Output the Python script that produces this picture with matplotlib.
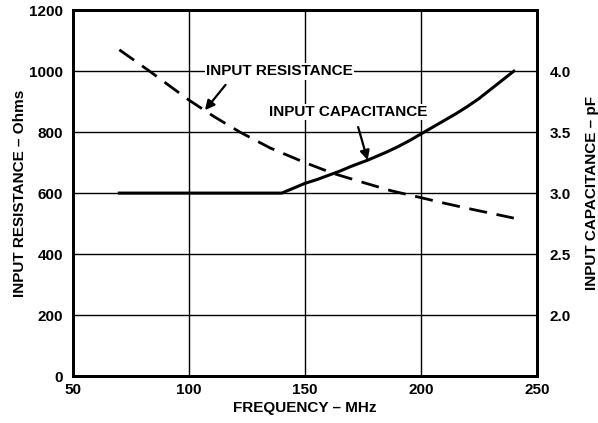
import numpy as np
import matplotlib.pyplot as plt

plt.rcParams['font.family'] = ['Liberation Sans', 'DejaVu Sans']
plt.rcParams['font.weight'] = 'bold'

# Input resistance (Ohms) vs frequency (MHz)
res_freq = [70, 83, 100, 111, 122, 135, 150, 162, 175, 187, 200, 210, 220, 230, 240]
res_ohms = [1070, 1000, 905, 850, 800, 748, 700, 665, 635, 608, 585, 567, 550, 534, 518]

# Input capacitance (pF) vs frequency (MHz)
cap_freq = [70, 140, 145, 150, 155, 160, 165, 170, 177, 185, 190, 195,
            200, 205, 210, 215, 220, 225, 230, 235, 240]
cap_pf = [3.0, 3.0, 3.04, 3.08, 3.11, 3.145, 3.18, 3.22, 3.27, 3.335, 3.38, 3.43,
          3.485, 3.54, 3.595, 3.65, 3.71, 3.775, 3.85, 3.925, 4.0]

x_ticks = [50, 100, 150, 200, 250]
y_ticks = [0, 200, 400, 600, 800, 1000, 1200]
y2_ticks = [2.0, 2.5, 3.0, 3.5, 4.0]

fig = plt.figure(figsize=(5.98, 4.23), dpi=100)
ax = fig.add_axes([0.122, 0.111, 0.776, 0.865])
ax2 = ax.twinx()

ax.plot(res_freq, res_ohms, color='black', lw=2, ls=(0, (6.5, 3.5)))
ax2.plot(cap_freq, cap_pf, color='black', lw=2.2)

ax.set_xlim(50, 250)
ax.set_ylim(0, 1200)
ax2.set_ylim(1.5, 4.5)
ax.set_xticks(x_ticks)
ax.set_yticks(y_ticks)
ax2.set_yticks(y2_ticks)
ax2.set_yticklabels(['%.1f' % v for v in y2_ticks])
ax.grid(True, color='black', lw=1)
ax.set_axisbelow(True)

ax.tick_params(axis='both', length=0, labelsize=11)
ax.tick_params(axis='y', pad=7)
ax.tick_params(axis='x', pad=5)
ax2.tick_params(axis='y', length=0, labelsize=11, pad=9)
for a in (ax, ax2):
    for s in a.spines.values():
        s.set_linewidth(2)

ax.set_xlabel('FREQUENCY – MHz', fontsize=11, fontweight='bold', labelpad=3)
ax.set_ylabel('INPUT RESISTANCE – Ohms', fontsize=11, fontweight='bold')
ax2.set_ylabel('INPUT CAPACITANCE – pF', fontsize=11, fontweight='bold')
ax.yaxis.set_label_coords(-0.098, 0.5)
ax2.yaxis.set_label_coords(1.104, 0.5)

box = dict(facecolor='white', edgecolor='none', pad=1)
ax.annotate('INPUT RESISTANCE', xy=(106.9, 872), xytext=(139, 1000),
            ha='center', va='center', fontsize=11, fontweight='bold', bbox=box,
            arrowprops=dict(arrowstyle='-|>', color='black', lw=1.6,
                            shrinkA=5, shrinkB=0, mutation_scale=14,
                            relpos=(0.17, 0.0)))
ax.annotate('INPUT CAPACITANCE', xy=(177, 708), xytext=(168.5, 866),
            ha='center', va='center', fontsize=11, fontweight='bold', bbox=box,
            arrowprops=dict(arrowstyle='-|>', color='black', lw=1.6,
                            shrinkA=5, shrinkB=0, mutation_scale=14,
                            relpos=(0.55, 0.0)))

fig.savefig('out.png', dpi=100)
